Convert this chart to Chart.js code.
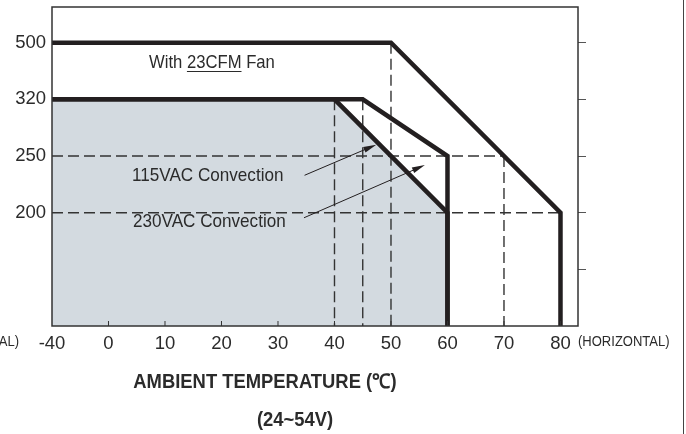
<!DOCTYPE html>
<html>
<head>
<meta charset="utf-8">
<script src="https://cdn.jsdelivr.net/npm/chart.js@4"></script>
<style>
  html, body { margin: 0; padding: 0; background: #fff; }
  #chart { display: block; }
</style>
</head>
<body>
<canvas id="chart" width="686" height="434"></canvas>
<script>
// axis steps - the drawing is not to scale, every step gets the same width
const tempTicks = [-40, 0, 10, 20, 30, 40, 50, 60, 70, 80];
const powerTicks = [0, null, 200, 250, 320, 500]; // null = unlabeled step

// derating curves: ambient temperature (C) vs output (W)
const fanTemp = [-40, 50, 80, 80];
const fanPower = [500, 500, 200, 0];
const ac115Temp = [-40, 45, 60, 60];
const ac115Power = [320, 320, 250, 0];
const ac230Temp = [-40, 40, 60, 60];
const ac230Power = [320, 320, 200, 0];

// dashed guides: [temp1, power1, temp2, power2]
const guides = [
  [-40, 250, 70, 250],
  [-40, 200, 80, 200],
  [40, 320, 40, 0],
  [45, 320, 45, 0],
  [50, 500, 50, 0],
  [70, 250, 70, 0]
];

// callout arrows: [fromTemp, fromPower, toTemp, toPower]
const arrows = [
  [34.7, 233, 47.4, 264],
  [34.6, 191, 56, 242]
];

const FONT = 'Liberation Sans, Arial, sans-serif';
const INK = '#231f20';
const TEXT = '#2b2b2b';

// turn a value into its (fractional) step index on a tick list
function step(v, ticks) {
  const known = ticks.map((t, i) => [t, i]).filter(p => p[0] !== null);
  for (let k = 0; k < known.length - 1; k++) {
    const [a, ia] = known[k];
    const [b, ib] = known[k + 1];
    if (v <= b || k === known.length - 2) {
      return ia + (v - a) / (b - a) * (ib - ia);
    }
  }
}
const pt = (t, p) => ({ x: step(t, tempTicks), y: step(p, powerTicks) });

function curve(temps, powers, extra) {
  return Object.assign({
    data: temps.map((t, i) => pt(t, powers[i])),
    borderColor: INK,
    borderWidth: 4.5,
    borderJoinStyle: 'miter',
    pointRadius: 0,
    tension: 0,
    fill: false
  }, extra);
}

const datasets = [
  curve(fanTemp, fanPower),
  curve(ac115Temp, ac115Power),
  curve(ac230Temp, ac230Power, { fill: 'origin', backgroundColor: '#d3dae0' })
];
guides.forEach(g => {
  datasets.push({
    data: [pt(g[0], g[1]), pt(g[2], g[3])],
    borderColor: '#333',
    borderWidth: 1.4,
    borderDash: [11, 5],
    pointRadius: 0,
    fill: false
  });
});

function text(ctx, str, x, y, font, align, sx) {
  ctx.save();
  ctx.font = font;
  ctx.fillStyle = TEXT;
  ctx.textAlign = align;
  ctx.textBaseline = 'middle';
  ctx.translate(x, y);
  ctx.scale(sx, 1);
  ctx.fillText(str, 0, 0);
  ctx.restore();
}

function seg(ctx, x1, y1, x2, y2) {
  ctx.beginPath();
  ctx.moveTo(x1, y1);
  ctx.lineTo(x2, y2);
  ctx.stroke();
}

const decor = {
  id: 'decor',
  afterDraw(chart) {
    const { ctx, chartArea: a, scales: { x, y } } = chart;
    ctx.save();

    // plot frame
    ctx.strokeStyle = '#333';
    ctx.lineWidth = 1.5;
    ctx.strokeRect(a.left, a.top, a.right - a.left, a.bottom - a.top);

    // small inner ticks along the bottom
    ctx.lineWidth = 1;
    for (let i = 1; i < tempTicks.length; i++) {
      const px = x.getPixelForValue(i);
      seg(ctx, px, a.bottom, px, a.bottom - 5);
    }

    // page border on the right
    ctx.strokeStyle = '#444';
    seg(ctx, 683.5, 0, 683.5, 434);

    // callout arrows
    ctx.strokeStyle = INK;
    ctx.fillStyle = INK;
    ctx.lineWidth = 1;
    arrows.forEach(r => {
      const p1 = pt(r[0], r[1]), p2 = pt(r[2], r[3]);
      const x1 = x.getPixelForValue(p1.x), y1 = y.getPixelForValue(p1.y);
      const x2 = x.getPixelForValue(p2.x), y2 = y.getPixelForValue(p2.y);
      const ang = Math.atan2(y2 - y1, x2 - x1);
      seg(ctx, x1, y1, x2 - 8 * Math.cos(ang), y2 - 8 * Math.sin(ang));
      ctx.save();
      ctx.translate(x2, y2);
      ctx.rotate(ang);
      ctx.beginPath();
      ctx.moveTo(0, 0);
      ctx.lineTo(-13, -3);
      ctx.lineTo(-13, 3);
      ctx.closePath();
      ctx.fill();
      ctx.restore();
    });

    // labels inside the plot
    const f18 = '18.5px ' + FONT;
    text(ctx, 'With ', 149, 63, f18, 'left', 0.9);
    ctx.font = f18;
    const w0 = ctx.measureText('With ').width * 0.9;
    const w1 = ctx.measureText('23CFM').width * 0.9;
    text(ctx, '23CFM Fan', 149 + w0, 63, f18, 'left', 0.9);
    ctx.strokeStyle = TEXT;
    ctx.lineWidth = 1;
    seg(ctx, 149 + w0, 71.5, 149 + w0 + w1, 71.5);

    const f19 = '19px ' + FONT;
    text(ctx, '115VAC Convection', 132, 176, f19, 'left', 0.9);
    text(ctx, '230VAC Convection', 133, 222, f19, 'left', 0.9);

    // axis side notes and titles
    const f14 = '14px ' + FONT;
    text(ctx, '(HORIZONTAL)', 19, 342, f14, 'right', 0.93);
    text(ctx, '(HORIZONTAL)', 578, 342, f14, 'left', 0.93);
    text(ctx, 'AMBIENT TEMPERATURE (\u2103)', 265, 382, 'bold 20px ' + FONT, 'center', 0.92);
    text(ctx, '(24~54V)', 295, 420, 'bold 20px ' + FONT, 'center', 0.92);

    ctx.restore();
  }
};

// one tick per step of the tick list
const wholeSteps = (lo, hi) => scale => {
  const ticks = [];
  for (let i = lo; i <= hi; i++) ticks.push({ value: i });
  scale.ticks = ticks;
};

// keep the plot box where the reference has it
const noEdgePadding = (size, key) => s => {
  s[key] = size;
  s.paddingTop = 0;
  s.paddingBottom = 0;
  s.paddingLeft = 0;
  s.paddingRight = 0;
};

new Chart(document.getElementById('chart'), {
  type: 'line',
  data: { datasets },
  options: {
    responsive: false,
    animation: false,
    devicePixelRatio: 1,
    layout: { padding: { top: 7 } },
    plugins: {
      legend: { display: false },
      tooltip: { enabled: false },
      filler: { drawTime: 'beforeDatasetsDraw' }
    },
    scales: {
      x: {
        type: 'linear',
        min: 0,
        max: 9.31,
        afterFit: noEdgePadding(108, 'height'),
        afterBuildTicks: wholeSteps(0, tempTicks.length - 1),
        grid: { display: false, drawTicks: false },
        border: { display: false },
        ticks: {
          stepSize: 1,
          autoSkip: false,
          maxRotation: 0,
          padding: 7,
          color: TEXT,
          font: { family: FONT, size: 18.5 },
          callback: v => tempTicks[v]
        }
      },
      y: {
        type: 'linear',
        position: 'left',
        min: 0,
        max: 5.63,
        afterFit: noEdgePadding(52, 'width'),
        afterBuildTicks: wholeSteps(0, powerTicks.length - 1),
        grid: { display: false, drawTicks: false },
        border: { display: false },
        ticks: {
          stepSize: 1,
          padding: 6,
          color: TEXT,
          font: { family: FONT, size: 18.5 },
          callback: v => (v > 0 && powerTicks[v] !== null ? powerTicks[v] : '')
        }
      },
      y2: {
        type: 'linear',
        position: 'right',
        min: 0,
        max: 5.63,
        afterFit: noEdgePadding(108, 'width'),
        afterBuildTicks: wholeSteps(1, powerTicks.length - 1),
        grid: { drawOnChartArea: false, drawTicks: true, tickLength: 8, color: '#555', lineWidth: 1 },
        border: { display: false },
        ticks: { display: false, stepSize: 1 }
      }
    }
  },
  plugins: [decor]
});
</script>
</body>
</html>
